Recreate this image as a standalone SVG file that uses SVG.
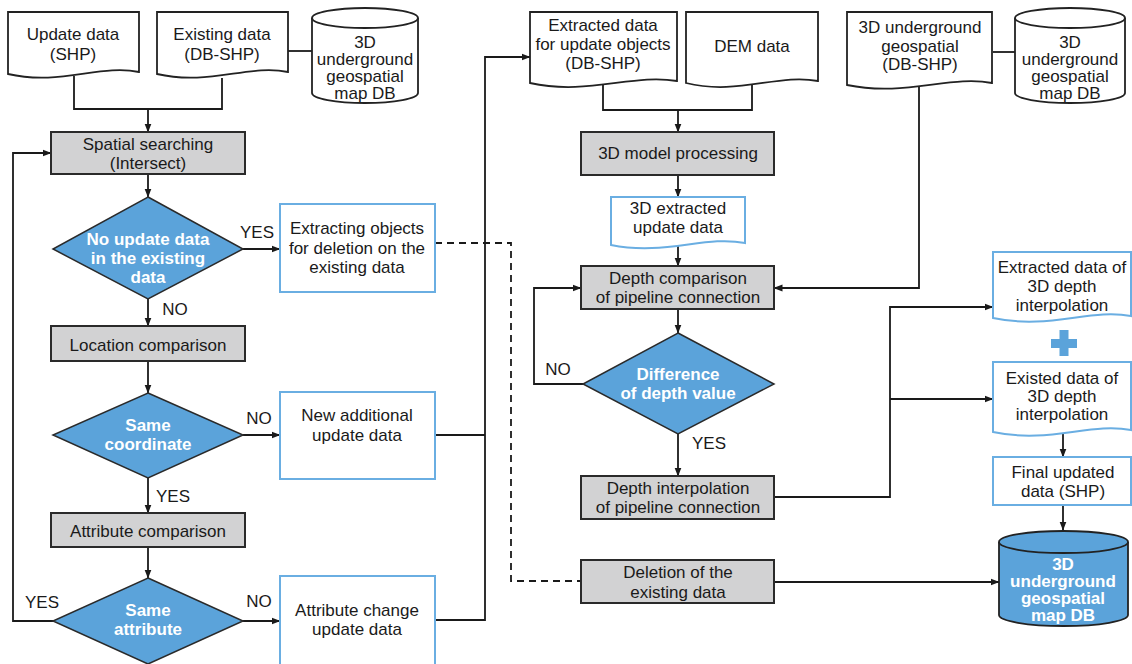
<svg xmlns="http://www.w3.org/2000/svg" width="1132" height="664" viewBox="0 0 1132 664">
<defs>
<marker id="arr" markerUnits="userSpaceOnUse" markerWidth="9" markerHeight="8" refX="8.5" refY="4" orient="auto">
<path d="M0,0.5 L9,4 L0,7.5 z" fill="#1a1a1a"/>
</marker>
<style>
.t{font-family:"Liberation Sans",Arial,sans-serif;font-size:17px;fill:#1a1a1a;text-anchor:middle;dominant-baseline:central}
.w{font-family:"Liberation Sans",Arial,sans-serif;font-size:17px;font-weight:bold;fill:#ffffff;text-anchor:middle;dominant-baseline:central}
.doc{fill:#ffffff;stroke:#222;stroke-width:1.8}
.bdoc{fill:#ffffff;stroke:#6aaee2;stroke-width:2}
.gray{fill:#d2d2d3;stroke:#2a2a2a;stroke-width:2}
.bbox{fill:#ffffff;stroke:#6aaee2;stroke-width:2}
.dia{fill:#5ba3da;stroke:#2a2a2a;stroke-width:1.5}
.cyl{fill:#ffffff;stroke:#222;stroke-width:1.8}
.bcyl{fill:#5ba3da;stroke:#222;stroke-width:1.8}
.ln{fill:none;stroke:#1a1a1a;stroke-width:1.8}
.ar{fill:none;stroke:#1a1a1a;stroke-width:1.8;marker-end:url(#arr)}
.da{fill:none;stroke:#1a1a1a;stroke-width:1.8;stroke-dasharray:7,5}
</style>
</defs>
<rect width="1132" height="664" fill="#ffffff"/>

<g id="connectors">
<path class="ln" d="M74,76 V109 H222 V78"/>
<path class="ln" d="M288,51 H312"/>
<path class="ar" d="M148,109 V132"/>
<path class="ar" d="M148,174 V197"/>
<path class="ar" d="M243,249 H280"/>
<path class="ar" d="M148,299 V326"/>
<path class="ar" d="M148,361 V393"/>
<path class="ar" d="M243,435 H280"/>
<path class="ar" d="M148,478 V513"/>
<path class="ar" d="M148,547 V578"/>
<path class="ar" d="M243,621 H280"/>
<path class="ar" d="M53,621 H13 V153 H51"/>
<path class="ln" d="M435,435 H485"/>
<path class="ar" d="M435,620 H485 V57 H530"/>
<path class="da" d="M435,243 H511 V581 H581"/>
<path class="ln" d="M603,78 V110 H752 V80"/>
<path class="ar" d="M678,110 V132"/>
<path class="ar" d="M678,175 V197"/>
<path class="ar" d="M678,245 V266"/>
<path class="ar" d="M919,70 V288 H774"/>
<path class="ar" d="M678,309 V333"/>
<path class="ar" d="M583,384 H534 V288 H581"/>
<path class="ar" d="M678,434 V476"/>
<path class="ar" d="M774,497 H890 V307 H993"/>
<path class="ar" d="M890,399 H993"/>
<path class="ar" d="M774,582 H999"/>
<path class="ln" d="M993,52 H1015"/>
<path class="ar" d="M1063,430 V457"/>
<path class="ar" d="M1063,505 V530"/>
</g>

<g id="n-update-data">
<path class="doc" d="M8,12 H139 V72 C100,64 60,86 8,74 Z"/>
<text class="t" x="73" y="34">Update data</text>
<text class="t" x="73" y="54">(SHP)</text>
</g>
<g id="n-existing-data">
<path class="doc" d="M157,12 H288 V72 C249,64 209,86 157,74 Z"/>
<text class="t" x="222" y="34">Existing data</text>
<text class="t" x="222" y="54">(DB-SHP)</text>
</g>
<g id="n-db-left">
<path class="cyl" d="M312,18 V93 A53,10 0 0 0 418,93 V18"/>
<ellipse class="cyl" cx="365" cy="18" rx="53" ry="10"/>
<text class="t" x="365" y="42">3D</text>
<text class="t" x="365" y="59">underground</text>
<text class="t" x="365" y="76">geospatial</text>
<text class="t" x="365" y="93">map DB</text>
</g>
<g id="n-spatial-search">
<rect class="gray" x="51" y="132" width="194" height="42"/>
<text class="t" x="148" y="144">Spatial searching</text>
<text class="t" x="148" y="163">(Intersect)</text>
</g>
<g id="n-dec-no-update">
<path class="dia" d="M148,197 L243,249 L148,299 L53,249 Z"/>
<text class="w" x="148" y="239">No update data</text>
<text class="w" x="148" y="258">in the existing</text>
<text class="w" x="148" y="277">data</text>
<text class="t" x="257" y="232">YES</text>
<text class="t" x="175" y="309">NO</text>
</g>
<g id="n-extract-delete">
<rect class="bbox" x="280" y="204" width="155" height="88"/>
<text class="t" x="357" y="228">Extracting objects</text>
<text class="t" x="357" y="248">for deletion on the</text>
<text class="t" x="357" y="267">existing data</text>
</g>
<g id="n-location">
<rect class="gray" x="51" y="326" width="194" height="35"/>
<text class="t" x="148" y="345">Location comparison</text>
</g>
<g id="n-dec-coord">
<path class="dia" d="M148,393 L243,435 L148,478 L53,435 Z"/>
<text class="w" x="148" y="425">Same</text>
<text class="w" x="148" y="444">coordinate</text>
<text class="t" x="259" y="418">NO</text>
<text class="t" x="173" y="496">YES</text>
</g>
<g id="n-new-add">
<rect class="bbox" x="280" y="392" width="155" height="87"/>
<text class="t" x="357" y="415">New additional</text>
<text class="t" x="357" y="435">update data</text>
</g>
<g id="n-attribute">
<rect class="gray" x="51" y="513" width="194" height="34"/>
<text class="t" x="148" y="531">Attribute comparison</text>
</g>
<g id="n-dec-attr">
<path class="dia" d="M148,578 L243,621 L148,664 L53,621 Z"/>
<text class="w" x="148" y="610">Same</text>
<text class="w" x="148" y="629">attribute</text>
<text class="t" x="42" y="602">YES</text>
<text class="t" x="259" y="601">NO</text>
</g>
<g id="n-attr-change">
<rect class="bbox" x="280" y="576" width="155" height="92"/>
<text class="t" x="357" y="610">Attribute change</text>
<text class="t" x="357" y="629">update data</text>
</g>

<g id="n-extracted-update">
<path class="doc" d="M530,12 H677 V81 C633,73 588,96 530,83 Z"/>
<text class="t" x="603" y="25">Extracted data</text>
<text class="t" x="603" y="44">for update objects</text>
<text class="t" x="603" y="63">(DB-SHP)</text>
</g>
<g id="n-dem">
<path class="doc" d="M686,12 H818 V81 C778,73 738,96 686,83 Z"/>
<text class="t" x="752" y="46">DEM data</text>
</g>
<g id="n-3d-model">
<rect class="gray" x="581" y="132" width="193" height="43"/>
<text class="t" x="678" y="153">3D model processing</text>
</g>
<g id="n-3d-extracted">
<path class="bdoc" d="M611,197 H745 V243 C705,235 665,256 611,245 Z"/>
<text class="t" x="678" y="208">3D extracted</text>
<text class="t" x="678" y="227">update data</text>
</g>
<g id="n-depth-compare">
<rect class="gray" x="581" y="266" width="193" height="43"/>
<text class="t" x="678" y="278">Depth comparison</text>
<text class="t" x="678" y="297">of pipeline connection</text>
</g>
<g id="n-dec-depth">
<path class="dia" d="M678,333 L774,384 L678,434 L583,384 Z"/>
<text class="w" x="678" y="374">Difference</text>
<text class="w" x="678" y="393">of depth value</text>
<text class="t" x="558" y="369">NO</text>
<text class="t" x="709" y="443">YES</text>
</g>
<g id="n-depth-interp">
<rect class="gray" x="581" y="476" width="193" height="43"/>
<text class="t" x="678" y="488">Depth interpolation</text>
<text class="t" x="678" y="507">of pipeline connection</text>
</g>
<g id="n-deletion">
<rect class="gray" x="581" y="560" width="193" height="43"/>
<text class="t" x="678" y="572">Deletion of the</text>
<text class="t" x="678" y="592">existing data</text>
</g>

<g id="n-3d-geo-doc">
<path class="doc" d="M847,12 H992 V83 C950,75 905,97 847,85 Z"/>
<text class="t" x="920" y="27">3D underground</text>
<text class="t" x="920" y="46">geospatial</text>
<text class="t" x="920" y="64">(DB-SHP)</text>
</g>
<g id="n-db-right">
<path class="cyl" d="M1015,18 V93 A55,10 0 0 0 1125,93 V18"/>
<ellipse class="cyl" cx="1070" cy="18" rx="55" ry="10"/>
<text class="t" x="1070" y="42">3D</text>
<text class="t" x="1070" y="59">underground</text>
<text class="t" x="1070" y="76">geospatial</text>
<text class="t" x="1070" y="93">map DB</text>
</g>
<g id="n-extracted-interp">
<path class="bdoc" d="M993,252 H1131 V316 C1090,308 1050,330 993,318 Z"/>
<text class="t" x="1062" y="267">Extracted data of</text>
<text class="t" x="1062" y="286">3D depth</text>
<text class="t" x="1062" y="305">interpolation</text>
</g>
<g id="n-plus">
<path d="M1059.5,330 H1068.5 V339 H1077 V348 H1068.5 V356 H1059.5 V348 H1051 V339 H1059.5 Z" fill="#5ba3da"/>
</g>
<g id="n-existed-interp">
<path class="bdoc" d="M993,362 H1131 V430 C1090,422 1050,444 993,432 Z"/>
<text class="t" x="1062" y="378">Existed data of</text>
<text class="t" x="1062" y="396">3D depth</text>
<text class="t" x="1062" y="414">interpolation</text>
</g>
<g id="n-final">
<rect class="bbox" x="993" y="457" width="138" height="48"/>
<text class="t" x="1063" y="472">Final updated</text>
<text class="t" x="1063" y="491">data (SHP)</text>
</g>
<g id="n-db-final">
<path class="bcyl" d="M999,542 V615 A64.5,11 0 0 0 1128,615 V542"/>
<ellipse class="bcyl" cx="1063.5" cy="542" rx="64.5" ry="11"/>
<text class="w" x="1063" y="564">3D</text>
<text class="w" x="1063" y="581">underground</text>
<text class="w" x="1063" y="598">geospatial</text>
<text class="w" x="1063" y="615">map DB</text>
</g>
</svg>
